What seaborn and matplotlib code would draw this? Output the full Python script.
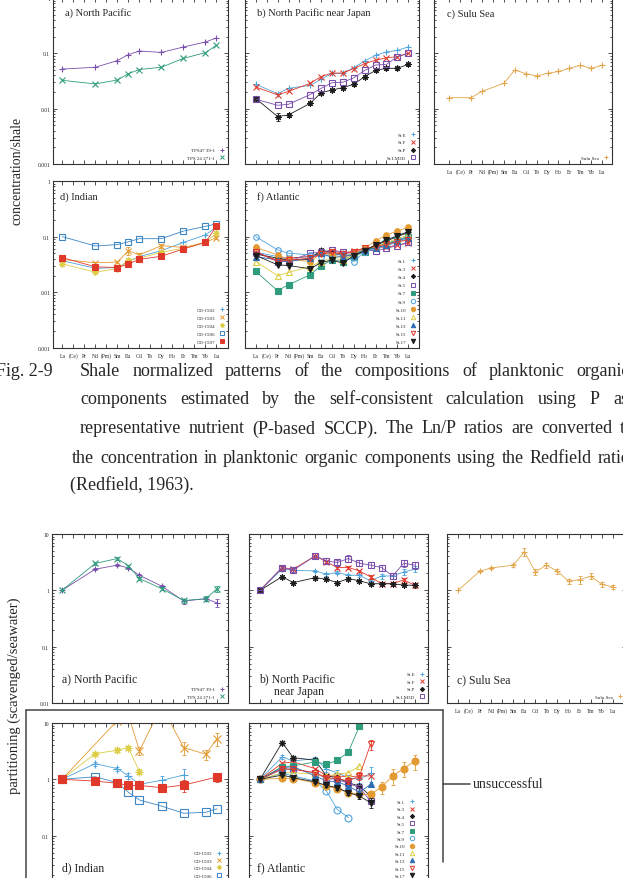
"""Shale-normalized REE patterns (Fig. 2-9) and partitioning panels below it."""

import matplotlib

matplotlib.use("Agg")
import matplotlib.pyplot as plt
import pandas as pd
import seaborn as sns
from matplotlib.lines import Line2D
from matplotlib.ticker import FixedLocator, FuncFormatter, LogLocator, NullFormatter
from matplotlib.transforms import offset_copy

W, H = 623, 879

ELEMENTS = ["La", "(Ce)", "Pr", "Nd", "(Pm)", "Sm", "Eu", "Gd", "Tb",
            "Dy", "Ho", "Er", "Tm", "Yb", "Lu"]
ELEM9 = ["La", "Nd", "Sm", "Eu", "Gd", "Dy", "Er", "Yb", "Lu"]
ELEM13 = ["La", "Pr", "Nd", "Sm", "Eu", "Gd", "Tb", "Dy", "Ho", "Er", "Tm", "Yb", "Lu"]

# --- Fig. 2-9: concentration / shale ---
A_TPS47 = [0.052, 0.056, 0.074, 0.095, 0.11, 0.104, 0.13, 0.16, 0.19]
A_TPS24 = [0.0325, 0.028, 0.033, 0.043, 0.051, 0.056, 0.081, 0.103, 0.14]

B_E = [0.0275, 0.0187, 0.0233, 0.0264, 0.034, 0.0435, 0.0435, 0.055, 0.0727, 0.092, 0.106, 0.113, 0.13]
B_F = [0.0246, 0.0177, 0.0206, 0.0287, 0.038, 0.044, 0.044, 0.053, 0.065, 0.075, 0.083, 0.087, 0.1]
B_P = [0.0152, 0.0072, 0.0077, 0.0125, 0.0195, 0.0217, 0.024, 0.0275, 0.038, 0.049, 0.0536, 0.0536, 0.063]
B_P_ERR = [0.05, 0.18, 0.1, 0.06, 0.05, 0.05, 0.05, 0.05, 0.05, 0.05, 0.05, 0.05, 0.05]
B_LM3D = [0.0148, 0.0115, 0.012, 0.018, 0.0233, 0.0295, 0.03, 0.036, 0.049, 0.0615, 0.063, 0.087, 0.1]

C_SULU = [0.0158, 0.0158, 0.0206, 0.0287, 0.05, 0.043, 0.039, 0.0435, 0.047, 0.0536, 0.0607, 0.0536, 0.0607]

D_1502 = [0.037, 0.027, 0.0279, 0.0358, 0.044, 0.056, 0.079, 0.107, 0.15]
D_1503 = [0.039, 0.034, 0.035, 0.056, 0.047, 0.069, 0.064, 0.079, 0.096]
D_1503_ERR = [0.05, 0.05, 0.05, 0.15, 0.08, 0.08, 0.05, 0.05, 0.05]
D_1504 = [0.0325, 0.023, 0.0265, 0.038, 0.041, 0.0525, 0.062, 0.079, 0.115]
D_1506 = [0.1, 0.068, 0.072, 0.081, 0.092, 0.092, 0.126, 0.153, 0.17]
D_1507 = [0.042, 0.0287, 0.0279, 0.0325, 0.039, 0.0446, 0.06, 0.079, 0.155]

F_ST1 = [0.0525, 0.044, 0.041, 0.044, 0.0525, 0.047, 0.0504, 0.047, 0.0555, 0.062, 0.069, 0.079, 0.093]
F_ST3 = [0.0504, 0.038, 0.041, 0.044, 0.0504, 0.0555, 0.0504, 0.0555, 0.062, 0.066, 0.064, 0.071, 0.076]
F_ST4 = [0.049, 0.041, 0.038, 0.039, 0.058, 0.0504, 0.047, 0.044, 0.058, 0.069, 0.084, 0.1, 0.119]
F_ST5 = [0.054, 0.0358, 0.0358, 0.0504, 0.0525, 0.058, 0.0525, 0.0504, 0.058, 0.0555, 0.062, 0.069, 0.079]
F_ST7 = [0.0237, 0.0107, 0.0137, 0.0207, 0.0303, 0.038, 0.0358, 0.044, 0.054, 0.066, 0.076, 0.087, 0.1]
F_ST9 = [0.1, 0.058, 0.0504, 0.047, 0.044, 0.047, 0.047, 0.0358, 0.054, 0.062, 0.071, 0.087, 0.1]
F_ST10 = [0.064, 0.047, 0.039, 0.0358, 0.0504, 0.047, 0.042, 0.0504, 0.062, 0.084, 0.107, 0.126, 0.147]
F_ST11 = [0.0358, 0.0199, 0.0228, 0.0291, 0.0358, 0.041, 0.038, 0.047, 0.058, 0.066, 0.079, 0.091, 0.107]
F_ST13 = [0.044, 0.038, 0.0358, 0.041, 0.0504, 0.042, 0.044, 0.047, 0.058, 0.062, 0.071, 0.084, 0.096]
F_ST15 = [0.054, 0.0358, 0.038, 0.041, 0.0484, 0.0525, 0.0484, 0.054, 0.062, 0.066, 0.073, 0.081, 0.087]
F_ST17 = [0.0458, 0.0312, 0.0303, 0.0265, 0.0343, 0.038, 0.0334, 0.0458, 0.0555, 0.071, 0.087, 0.104, 0.123]

# --- lower figure: partitioning (scavenged/seawater) ---
PA_TPS47 = [1, 2.37, 2.8, 2.5, 1.85, 1.19, 0.645, 0.71, 0.6]
PA_TPS47_ERR = [0, 0.04, 0.04, 0.05, 0.05, 0.05, 0.1, 0.08, 0.15]
PA_TPS24 = [1, 3.0, 3.67, 2.72, 1.62, 1.07, 0.66, 0.71, 1.07]
PA_TPS24_ERR = [0, 0.05, 0.05, 0.05, 0.05, 0.05, 0.08, 0.1, 0.12]

PB_E = [1, 2.37, 2.27, 2.21, 1.93, 2.07, 1.85, 1.85, 1.47, 1.8, 1.8, 2.12, 2.37]
PB_E_ERR = [0, 0.05, 0.05, 0.05, 0.06, 0.06, 0.06, 0.06, 0.08, 0.1, 0.12, 0.12, 0.12]
PB_F = [1, 2.54, 2.37, 4.1, 3.2, 2.54, 2.54, 2.21, 1.73, 1.31, 1.31, 1.53, 1.23]
PB_F_ERR = [0, 0.05, 0.05, 0.05, 0.05, 0.05, 0.06, 0.06, 0.08, 0.08, 0.08, 0.1, 0.1]
PB_P = [1, 1.75, 1.37, 1.68, 1.57, 1.37, 1.62, 1.47, 1.31, 1.31, 1.31, 1.24, 1.23]
PB_LM3D = [1, 2.54, 2.27, 4.1, 3.34, 3.12, 3.67, 3.03, 2.8, 2.54, 1.8, 3.03, 2.8]
PB_LM3D_ERR = [0, 0.08, 0.08, 0.1, 0.12, 0.12, 0.15, 0.12, 0.12, 0.12, 0.12, 0.15, 0.15]

PC_SULU = [1, 2.21, 2.5, 2.8, 4.84, 2.12, 2.8, 2.18, 1.45, 1.55, 1.78, 1.28, 1.15]
PC_SULU_ERR = [0, 0.05, 0.05, 0.06, 0.15, 0.12, 0.1, 0.1, 0.1, 0.15, 0.12, 0.1, 0.1]

PD_1502 = [1, 1.9, 1.55, 1.15, 0.815, 0.96, 1.19, None, None]
PD_1502_ERR = [0, 0.08, 0.08, 0.12, 0.08, 0.2, 0.3, None, None]
PD_1503 = [1, None, 11, 14, 3.2, 20, 3.66, 2.79, 5.3]
PD_1503_ERR = [0, None, 0.1, 0.1, 0.15, 0.1, 0.25, 0.2, 0.25]
PD_1504 = [1, 2.86, 3.28, 3.66, 1.37, None, None, None, None]
PD_1504_ERR = [0, 0.05, 0.05, 0.06, 0.1, None, None, None, None]
PD_1506 = [1, 1.11, 0.87, 0.59, 0.43, 0.335, 0.25, 0.26, 0.3]
PD_1507 = [1, 0.93, 0.85, 0.78, 0.78, 0.71, 0.79, None, 1.1]
PD_1507_ERR = [0, 0.08, 0.08, 0.1, 0.1, 0.1, 0.25, None, 0.2]

PF_ST1 = [1, 2.5, 2.12, 2.33, 1.51, 1.31, 1.07, 1.0, 1.28]
PF_ST1_ERR = [0, 0.08, 0.08, 0.08, 0.1, 0.1, 0.1, 0.15, 0.3]
PF_ST3 = [1, 1.93, 2.04, 1.55, 1.15, 1.15, 1.11, 1.15, 1.15]
PF_ST4 = [1, 4.5, 2.43, 2.18, 1.15, 1.07, 0.87, 0.76, 0.505]
PF_ST5 = [1, 1.51, 1.51, 1.31, 1.03, 1.0, 0.85, 0.71, 0.41]
PF_ST7 = [1, 1.68, 1.73, 2.04, 1.85, 2.18, 3.07, 8.9]
PF_ST9 = [1, 1.28, 1.15, 0.934, 0.62, 0.29, 0.21]
PF_ST10 = [1, 1.04, 1.03, 0.87, 0.76, 0.68, 0.58, 0.54, 0.54, 0.73, 1.15, 1.55, 2.12]
PF_ST10_ERR = [0, 0.03, 0.03, 0.04, 0.05, 0.05, 0.06, 0.08, 0.12, 0.25, 0.3, 0.3, 0.3]
PF_ST11 = [1, 1.31, 1.31, 1.23, 1.15, 1.23, 1.31, 1.73]
PF_ST13 = [1, 1.61, 1.68, 1.15, 0.934, 0.9, 0.76, 0.59, 0.815]
PF_ST15 = [1, 1.55, 1.51, 1.31, 1.07, 1.03, 0.934, 1.15, 4.2]
PF_ST15_ERR = [0, 0.05, 0.05, 0.05, 0.08, 0.08, 0.1, 0.15, 0.2]
PF_ST17 = [1, 1.19, 1.07, 0.9, 0.78, 0.71, 0.58, 0.505, 0.385]
PF_ST17_ERR = [0, 0.04, 0.04, 0.05, 0.06, 0.08, 0.1, 0.12, 0.2]

PURPLE = "#7a4fab"
GREEN = "#2f9c7d"
SKY = "#4fa3dc"
ORANGE = "#e39a32"
YELLOW = "#dccd45"
BLUE = "#2e6db3"
SQBLUE = "#3d86c6"
RED = "#e0392b"
BLACK = "#1c1c1c"
GOLD = "#e2a54a"
ASTER = (8, 2, 0)

sns.set_theme(style="ticks")
plt.rcParams["font.family"] = ["Liberation Serif", "DejaVu Serif"]

fig = plt.figure(figsize=(W / 100, H / 100), dpi=100)


def px_axes(x0, y0, x1, y1):
    return fig.add_axes([x0 / W, 1 - y1 / H, (x1 - x0) / W, (y1 - y0) / H])


def draw_series(ax, elems, values, color, marker, hollow, size, err):
    df = pd.DataFrame({"pos": [ELEMENTS.index(e) for e in elems[:len(values)]],
                       "val": pd.to_numeric(pd.Series(values), errors="coerce")})
    if err is not None:
        df["err"] = pd.to_numeric(pd.Series(err), errors="coerce")
    df = df.dropna(subset=["val"])
    sns.lineplot(data=df, x="pos", y="val", ax=ax, color=color, lw=0.6,
                 marker=marker, ms=size, mec=color,
                 mfc="none" if hollow else color, mew=0.8,
                 errorbar=None, sort=False)
    if err is not None:
        e = df.dropna(subset=["err"])
        ax.errorbar(e["pos"], e["val"], yerr=e["val"] * e["err"], fmt="none",
                    ecolor=color, elinewidth=0.6, capsize=1.3, capthick=0.6)


def style_axes(ax, ylim, xlim, ylabels, xlabels):
    ax.set_yscale("log")
    ax.set_ylim(*ylim)
    ax.set_xlim(*xlim)
    ax.set_xlabel("")
    ax.set_ylabel("")
    ax.xaxis.set_major_locator(FixedLocator(range(len(ELEMENTS))))
    ax.yaxis.set_major_locator(LogLocator(base=10))
    ax.yaxis.set_minor_locator(LogLocator(base=10, subs=range(2, 10)))
    ax.yaxis.set_minor_formatter(NullFormatter())
    if ylabels:
        ax.yaxis.set_major_formatter(FuncFormatter(lambda v, _: f"{v:g}"))
    else:
        ax.set_yticklabels([])
    ax.set_xticklabels([])
    if xlabels:
        # element names on a shared baseline (parentheses would shift them otherwise)
        trans = offset_copy(ax.get_xaxis_transform(), fig=fig, y=-9, units="dots")
        for i, name in enumerate(ELEMENTS):
            ax.text(i, 0, name, transform=trans, ha="center", va="baseline",
                    fontsize=4, clip_on=False)
    ax.tick_params(which="both", direction="in", top=True, right=True,
                   width=0.6, color="#333333", labelsize=4, pad=2)
    ax.tick_params(which="major", length=3)
    ax.tick_params(which="minor", length=1.6)
    for sp in ax.spines.values():
        sp.set_linewidth(0.8)
        sp.set_color("#333333")


def panel(ax, series, ylim, xlim, ylabels, xlabels, size, spacing=0.6, pad=0.4):
    ax.set_yscale("log")
    handles, labels = [], []
    for item in series:
        label, elems, vals, color, marker, hollow = item[:6]
        err = item[6] if len(item) > 6 else None
        draw_series(ax, elems, vals, color, marker, hollow, size, err)
        handles.append(Line2D([], [], ls="none", marker=marker, color=color, mec=color,
                              mfc="none" if hollow else color, ms=3.2, mew=0.7))
        labels.append(label)
    style_axes(ax, ylim, xlim, ylabels, xlabels)
    ax.legend(handles, labels, loc="lower right", frameon=False, markerfirst=False,
              fontsize=3.6, handlelength=1.0, handletextpad=0.8, labelspacing=spacing,
              borderaxespad=pad)


def label_px(x, y, text, size):
    fig.text(x / W, 1 - y / H, text, fontsize=size, ha="left", va="center")


TOP = (0.001, 1)
BOT = (0.01, 10)

# ---- upper figure ----
ax = px_axes(53, -1, 228, 165)
panel(ax, [("TPS47 39-1", ELEM9, A_TPS47, PURPLE, "+", False),
           ("TPS 24 271-1", ELEM9, A_TPS24, GREEN, "x", False)],
      TOP, (-0.85, 15.05), True, False, 4.5, spacing=0.65)

ax = px_axes(245, -1, 419, 165)
panel(ax, [("St.E", ELEM13, B_E, SKY, "+", False),
           ("St.F", ELEM13, B_F, RED, "x", False),
           ("St.P", ELEM13, B_P, BLACK, ASTER, False, B_P_ERR),
           ("St.LM3D", ELEM13, B_LM3D, PURPLE, "s", True)],
      TOP, (-1.0, 15.0), False, False, 4.5, spacing=0.65)

ax = px_axes(434, -1, 612, 165)
panel(ax, [("Sulu Sea", ELEM13, C_SULU, GOLD, "+", False)],
      TOP, (-1.4, 14.9), False, True, 5)

ax = px_axes(53, 182, 228, 349)
panel(ax, [("CD-1502", ELEM9, D_1502, SKY, "+", False),
           ("CD-1503", ELEM9, D_1503, ORANGE, "x", False, D_1503_ERR),
           ("CD-1504", ELEM9, D_1504, YELLOW, ASTER, False),
           ("CD-1506", ELEM9, D_1506, SQBLUE, "s", True),
           ("CD-1507", ELEM9, D_1507, RED, "s", False)],
      TOP, (-0.85, 15.05), True, True, 4.5, spacing=0.72)

ax = px_axes(245, 182, 419, 349)
panel(ax, [("St.1", ELEM13, F_ST1, SKY, "+", False),
           ("St.3", ELEM13, F_ST3, RED, "x", False),
           ("St.4", ELEM13, F_ST4, BLACK, ASTER, False),
           ("St.5", ELEM13, F_ST5, PURPLE, "s", True),
           ("St.7", ELEM13, F_ST7, GREEN, "s", False),
           ("St.9", ELEM13, F_ST9, SKY, "o", True),
           ("St.10", ELEM13, F_ST10, ORANGE, "o", False),
           ("St.11", ELEM13, F_ST11, YELLOW, "^", True),
           ("St.13", ELEM13, F_ST13, BLUE, "^", False),
           ("St.15", ELEM13, F_ST15, RED, "v", True),
           ("St.17", ELEM13, F_ST17, BLACK, "v", False)],
      TOP, (-1.0, 15.0), False, True, 4, spacing=0.72)

label_px(65, 13, "a) North Pacific", 7.5)
label_px(257, 13, "b) North Pacific near Japan", 7.5)
label_px(447, 14, "c) Sulu Sea", 7.5)
label_px(60, 197, "d) Indian", 7.5)
label_px(257, 197, "f) Atlantic", 7.5)
fig.text(17 / W, 1 - 171 / H, "concentration/shale", rotation=90, fontsize=10,
         ha="center", va="center")

# ---- caption ----
renderer = fig.canvas.get_renderer()


def justify_line(words, x0, x1, y, size):
    texts = [fig.text(0, 1 - y / H, w, fontsize=size, ha="left", va="center") for w in words]
    widths = [t.get_window_extent(renderer).width for t in texts]
    gap = (x1 - x0 - sum(widths)) / (len(words) - 1)
    x = x0
    for t, w in zip(texts, widths):
        t.set_x(x / W)
        x += w + gap


CAP = 13
fig.text(-4 / W, 1 - 371 / H, "Fig. 2-9", fontsize=CAP, ha="left", va="center")
justify_line("Shale normalized patterns of the compositions of planktonic organic".split(),
             80, 630, 371, CAP)
justify_line("components estimated by the self-consistent calculation using P as".split(),
             80, 628, 400, CAP)
justify_line("representative nutrient (P-based SCCP).  The Ln/P ratios are converted to".split(),
             80, 634, 429, CAP)
justify_line("the concentration in planktonic organic components using the Redfield ratio".split(),
             72, 630, 459, CAP)
fig.text(70 / W, 1 - 485 / H, "(Redfield, 1963).", fontsize=CAP, ha="left", va="center")

# ---- lower figure ----
ax = px_axes(52, 535, 228, 704)
panel(ax, [("TPS47 39-1", ELEM9, PA_TPS47, PURPLE, "+", False, PA_TPS47_ERR),
           ("TPS 24 271-1", ELEM9, PA_TPS24, GREEN, "x", False, PA_TPS24_ERR)],
      BOT, (-0.9, 15.0), True, False, 4.5, spacing=0.6)

ax = px_axes(249, 535, 428, 704)
panel(ax, [("St.E", ELEM13, PB_E, SKY, "+", False, PB_E_ERR),
           ("St.F", ELEM13, PB_F, RED, "x", False, PB_F_ERR),
           ("St.P", ELEM13, PB_P, BLACK, ASTER, False),
           ("St.LM3D", ELEM13, PB_LM3D, PURPLE, "s", True, PB_LM3D_ERR)],
      BOT, (-1.0, 15.2), False, False, 4.5, spacing=0.6)

ax = px_axes(447, 535, 626, 704)
panel(ax, [("Sulu Sea", ELEM13, PC_SULU, GOLD, "+", False, PC_SULU_ERR)],
      BOT, (-1.0, 15.2), False, True, 5)

ax = px_axes(52, 724, 228, 893)
panel(ax, [("CD-1502", ELEM9, PD_1502, SKY, "+", False, PD_1502_ERR),
           ("CD-1503", ELEM9, PD_1503, ORANGE, "x", False, PD_1503_ERR),
           ("CD-1504", ELEM9, PD_1504, YELLOW, ASTER, False, PD_1504_ERR),
           ("CD-1506", ELEM9, PD_1506, SQBLUE, "s", True),
           ("CD-1507", ELEM9, PD_1507, RED, "s", False, PD_1507_ERR)],
      BOT, (-0.9, 15.0), True, False, 5.5, spacing=0.58, pad=1.0)

ax = px_axes(249, 724, 428, 893)
panel(ax, [("St.1", ELEM13, PF_ST1, SKY, "+", False, PF_ST1_ERR),
           ("St.3", ELEM13, PF_ST3, RED, "x", False),
           ("St.4", ELEM13, PF_ST4, BLACK, ASTER, False),
           ("St.5", ELEM13, PF_ST5, PURPLE, "s", True),
           ("St.7", ELEM13, PF_ST7, GREEN, "s", False),
           ("St.9", ELEM13, PF_ST9, SKY, "o", True),
           ("St.10", ELEM13, PF_ST10, ORANGE, "o", False, PF_ST10_ERR),
           ("St.11", ELEM13, PF_ST11, YELLOW, "^", True),
           ("St.13", ELEM13, PF_ST13, BLUE, "^", False),
           ("St.15", ELEM13, PF_ST15, RED, "v", True, PF_ST15_ERR),
           ("St.17", ELEM13, PF_ST17, BLACK, "v", False, PF_ST17_ERR)],
      BOT, (-1.0, 15.2), False, False, 5, spacing=0.58, pad=2.4)

label_px(62, 679, "a) North Pacific", 8.5)
label_px(259, 679, "b) North Pacific", 8.5)
label_px(274, 692, "near Japan", 8.5)
label_px(457, 680, "c) Sulu Sea", 8.5)
label_px(62, 868, "d) Indian", 8.5)
label_px(257, 868, "f) Atlantic", 8.5)
fig.text(14 / W, 1 - 696 / H, "partitioning (scavenged/seawater)", rotation=90,
         fontsize=10.5, ha="center", va="center")

# bracket around the unsuccessful panels
for (x0, y0), (x1, y1) in [((26, 711), (443, 711)), ((26, 711), (26, 885)),
                           ((443, 711), (443, 863)), ((443, 785), (470, 785))]:
    fig.add_artist(Line2D([x0 / W, x1 / W], [1 - y0 / H, 1 - y1 / H],
                          transform=fig.transFigure, color="#444444", lw=1.1))
label_px(473, 785, "unsuccessful", 10)

fig.savefig("out.png", dpi=100)
